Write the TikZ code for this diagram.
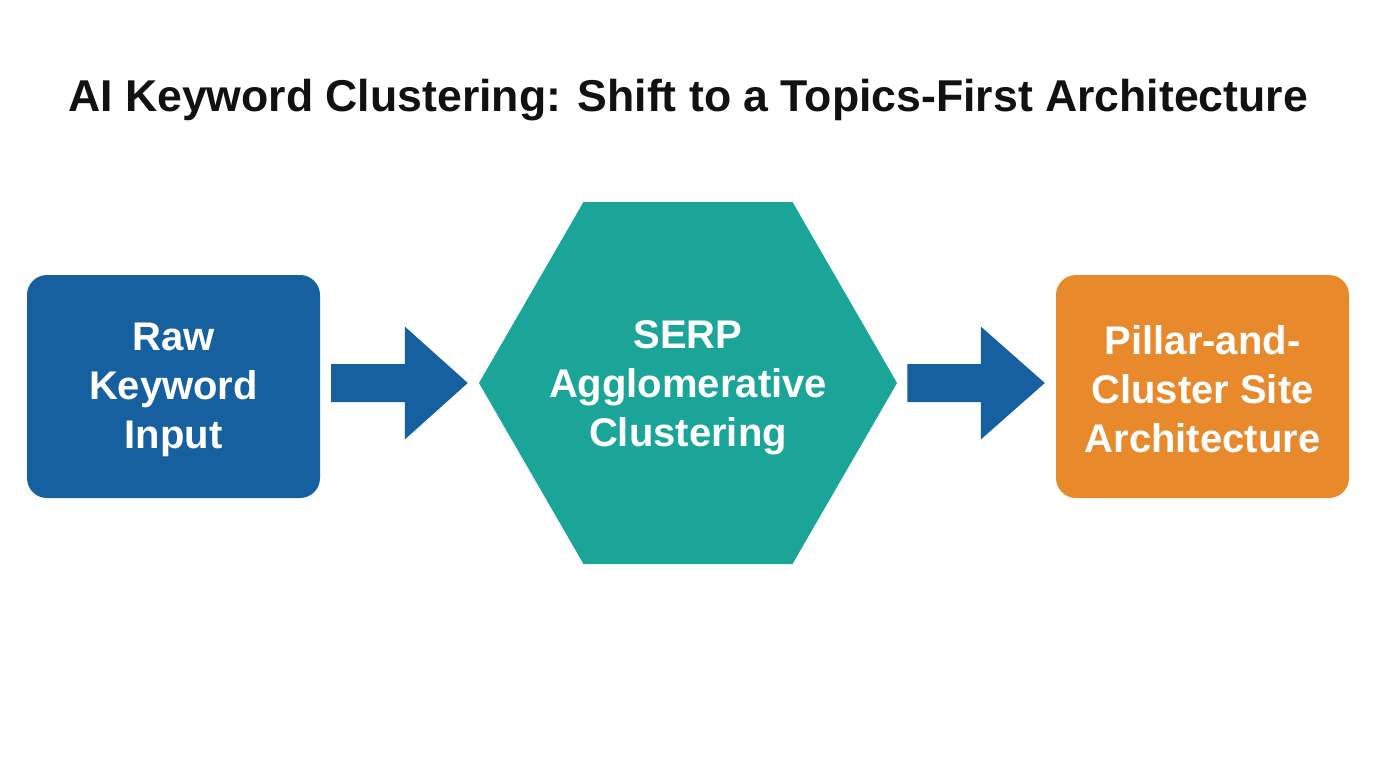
\documentclass[tikz,border=0pt]{standalone}
\usepackage{fontspec}
\setmainfont{Liberation Sans}
\usetikzlibrary{calc,shapes.geometric}
\definecolor{kblue}{RGB}{22,96,160}
\definecolor{kteal}{RGB}{27,164,152}
\definecolor{korange}{RGB}{232,137,44}
\definecolor{ktitle}{RGB}{17,17,17}
\tikzset{
  boxstyle/.style={rounded corners=20pt, minimum width=293pt, minimum height=223pt, inner sep=0pt},
  txt/.style={text=white, font=\fontsize{40}{49}\selectfont\bfseries, align=center},
  blockarrow/.style={fill=kblue, draw=none},
}
\begin{document}
\begin{tikzpicture}[x=1pt,y=-1pt]
\useasboundingbox[fill=white] (0,0) rectangle (1376,768);
\node[font=\fontsize{44.6}{50}\selectfont\bfseries, text=ktitle] (title) at (688,100) {AI Keyword Clustering: Shift to a Topics-First Architecture};
\node[boxstyle, fill=kblue] (raw) at (173.5,386.5) {};
\node[txt] (rawtxt) at (173.5,390) {Raw\\Keyword\\Input};
\node[regular polygon, regular polygon sides=6, minimum size=418pt, inner sep=0pt, fill=kteal] (serp) at (688,383) {};
\node[txt] (serptxt) at (688,388) {SERP\\Agglomerative\\Clustering};
\node[boxstyle, fill=korange] (pillar) at (1202.5,386.5) {};
\node[txt] (pillartxt) at (1202.5,389) {Pillar-and-\\Cluster Site\\Architecture};
% arrow 1
\fill[blockarrow] ($(raw.east|-serp.west)+(11,-19)$) -- ($(serp.west)+(-74,-19)$) -- ++(0,-37.5)
  -- ($(serp.west)+(-11,0)$) -- ++(-63,56.5) -- ++(0,-37.5) -- ($(raw.east|-serp.west)+(11,19)$) -- cycle;
% arrow 2
\fill[blockarrow] ($(serp.east)+(10,-19)$) -- ($(pillar.west|-serp.east)+(-75,-19)$) -- ++(0,-37.5)
  -- ($(pillar.west|-serp.east)+(-11,0)$) -- ++(-64,56.5) -- ++(0,-37.5) -- ($(serp.east)+(10,19)$) -- cycle;
\end{tikzpicture}
\end{document}
